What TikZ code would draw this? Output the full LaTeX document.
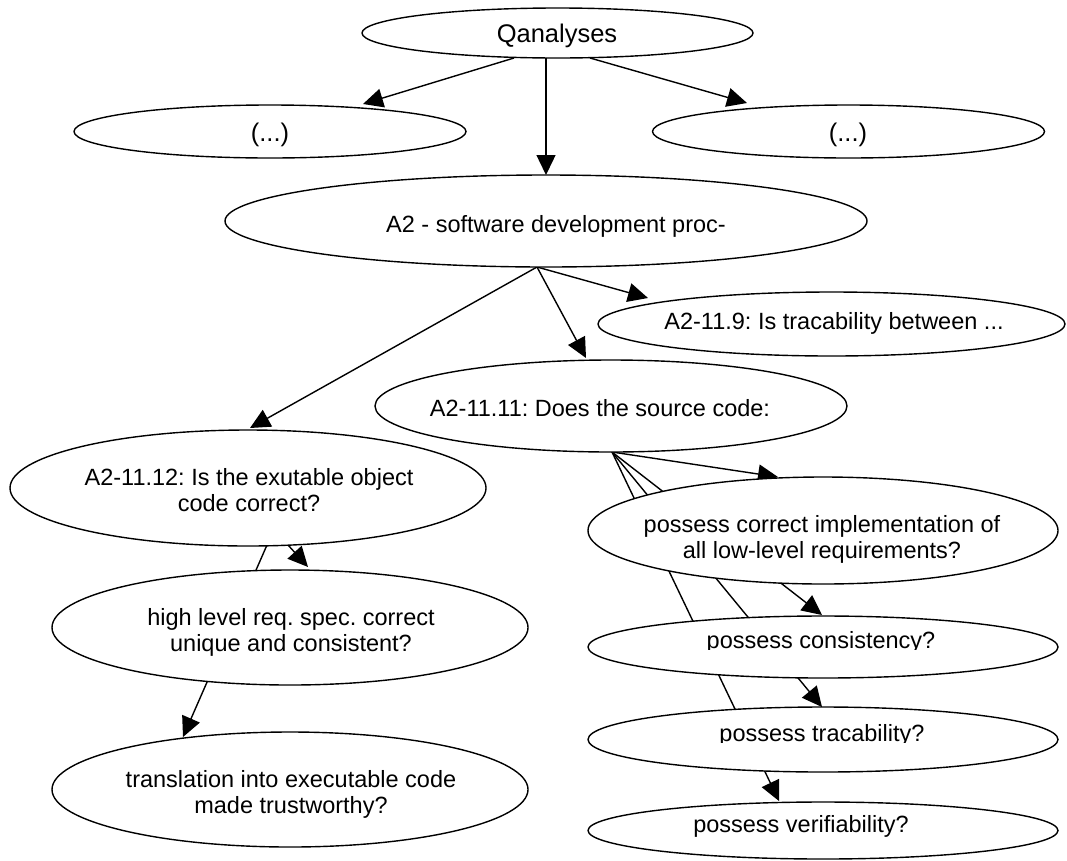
\documentclass[tikz,border=0pt]{standalone}
\usepackage{fontspec}
\setmainfont{Liberation Sans}
\usetikzlibrary{shapes.geometric,arrows.meta,calc,backgrounds}
% two centred lines whose first baseline is the box baseline
\newcommand\twolines[2]{\begin{tabular}[t]{@{}c@{}}#1\\#2\end{tabular}}
\frenchspacing
\begin{document}
\begin{tikzpicture}[x=1pt,y=-1pt,
  oval/.style 2 args={ellipse, draw, fill=white, line width=1.4pt, inner sep=0pt,
    minimum width=#1pt, minimum height=#2pt},
  txt/.style={anchor=base, inner sep=0pt, font=\fontsize{23.5}{26.5}\selectfont},
  bigtxt/.style={txt, font=\fontsize{25.5}{28}\selectfont},
  link/.style={line width=1.4pt, -{Triangle[length=20pt,width=19pt]}}]

\useasboundingbox (0,0) rectangle (1067,860);

% goal ellipses
\node[oval={391}{50}]  (q)   at (557.5,33)   {};
\node[oval={392}{53}]  (l)   at (270,131.5)  {};
\node[oval={392}{53}]  (r)   at (848.5,131.5){};
\node[oval={642}{92}]  (a2)  at (546,221)    {};
\node[oval={467}{64}]  (a9)  at (831.5,324)  {};
\node[oval={472}{92}]  (a11) at (611,406)    {};
\node[oval={476}{116}] (a12) at (248,488)    {};
\node[oval={476}{115}] (hl)  at (290,627.5)  {};
\node[oval={476}{115}] (tr)  at (290,789.5)  {};
\node[oval={470}{107}] (pc)  at (823,530.5)  {};
\node[oval={470}{62}]  (pcs) at (823,647)    {};
\node[oval={470}{65}]  (pt)  at (823,739.5)  {};
\node[oval={470}{57}]  (pv)  at (823,830.5)  {};

% labels
\node[bigtxt] (qt) at (557,42)  {Qanalyses};
\node[bigtxt] (lt) at (270,141) {(...)};
\node[bigtxt] (rt) at (848,141) {(...)};
\node[txt] (a2t)  at (556,232) {A2 - software development proc-};
\node[txt] (a9t)  at (834,329) {A2-11.9: Is tracability between ...};
\node[txt] (a11t) at (600,416) {A2-11.11: Does the source code:};
\node[txt] (a12t) at (249,485) {\twolines{A2-11.12: Is the exutable object}{code correct?}};
\node[txt] (hlt)  at (291,625) {\twolines{high level req. spec. correct}{unique and consistent?}};
\node[txt] (trt)  at (291,787) {\twolines{translation into executable code}{made trustworthy?}};
\node[txt] (pct)  at (822,532) {\twolines{possess correct implementation of}{all low-level requirements?}};
\begin{scope}
  \clip (585,600) rectangle (1060,649);
  \node[txt] (pcst) at (821,648) {possess consistency?};
\end{scope}
\begin{scope}
  \clip (585,700) rectangle (1060,742);
  \node[txt] (ptt) at (822,741) {possess tracability?};
\end{scope}
\node[txt] (pvt)  at (801,832) {possess verifiability?};

% connectors, kept underneath the ellipses
\begin{pgfonlayer}{background}
  \fill[white] (0,0) rectangle (1067,860);
  \draw[link] ($(q.center)+(-43.5,25)$) -- ($(l.center)+(93,-27.5)$);
  \draw[link] ($(q.center)+(-11.5,25)$) -- ($(a2.center)+(0,-46)$);
  \draw[link] ($(q.center)+(32.5,25)$)  -- ($(r.center)+(-101.5,-28.5)$);
  \draw[link] ($(a2.center)+(-9,46)$) -- ($(a12.center)+(2,-60)$);
  \draw[link] ($(a2.center)+(-9,46)$) -- ($(a11.center)+(-25,-48)$);
  \draw[link] ($(a2.center)+(-9,46)$) -- ($(a9.center)+(-183.5,-26)$);
  \draw[link] ($(a12.center)+(40,57)$) -- ($(hl.center)+(18,-60.5)$);
  \draw[link] ($(a12.center)+(19,57)$) -- ($(tr.center)+(-107,-52.5)$);
  \draw[link] ($(a11.center)+(1,46)$) -- ($(pc.center)+(-45,-53.5)$);
  \draw[link] ($(a11.center)+(1,46)$) -- ($(pcs.center)+(-1,-32)$);
  \draw[link] ($(a11.center)+(1,46)$) -- ($(pt.center)+(-1,-32.5)$);
  \draw[link] ($(a11.center)+(1,46)$) -- ($(pv.center)+(-44,-29.5)$);
\end{pgfonlayer}
\end{tikzpicture}
\end{document}
